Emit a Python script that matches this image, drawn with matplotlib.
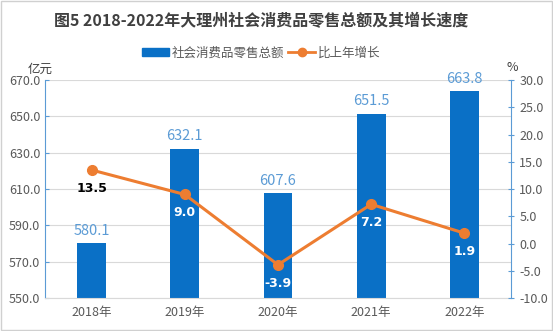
import matplotlib.pyplot as plt
import numpy as np
from matplotlib.lines import Line2D
from matplotlib.patches import Patch

plt.rcParams['font.family'] = ['Noto Sans CJK SC', 'DejaVu Sans']

years = ["2018年", "2019年", "2020年", "2021年", "2022年"]
sales = [580.1, 632.1, 607.6, 651.5, 663.8]
growth = [13.5, 9.0, -3.9, 7.2, 1.9]

fig = plt.figure(figsize=(5.53, 3.31), dpi=100)
fig.patches.append(plt.Rectangle((0.002, 0.003), 0.996, 0.994, transform=fig.transFigure,
                                 fill=False, edgecolor='#d0d0d0', lw=1))
ax = fig.add_axes([0.0814, 0.0997, 0.8426, 0.6583])
x = np.arange(len(years))

ax.bar(x, sales, width=0.31, color='#0A70C6', zorder=2)
for xi, v in zip(x, sales):
    ax.text(xi, v + 3, f"{v:.1f}", ha='center', va='bottom', color='#5B9BD5', fontsize=10.5)

ax.set_xlim(-0.5, 4.5)
ax.set_ylim(550, 670)
ax.set_yticks(np.arange(550, 671, 20))
ax.set_yticklabels([f"{t:.1f}" for t in np.arange(550, 671, 20)])
ax.set_xticks(x)
ax.set_xticklabels(years)
ax.grid(axis='y', color='#d9d9d9', lw=0.8, zorder=0)
ax.tick_params(axis='y', colors='#5B9BD5', labelcolor='#595959', labelsize=9, length=3, direction='in')
ax.tick_params(axis='x', length=0, labelcolor='#595959', labelsize=9, pad=6)
for s in ['top', 'right']:
    ax.spines[s].set_visible(False)
ax.spines['left'].set_color('#5B9BD5')
ax.spines['bottom'].set_color('#d9d9d9')

ax2 = ax.twinx()
ax2.plot(x, growth, color='#ED7D31', lw=2.2, marker='o', markersize=7, zorder=3)
ax2.set_ylim(-10, 30)
ax2.set_yticks(np.arange(-10, 31, 5))
ax2.set_yticklabels([f"{t:.1f}" for t in np.arange(-10, 31, 5)])
ax2.tick_params(axis='y', colors='#5B9BD5', labelcolor='#595959', labelsize=9, length=5, direction='inout')
for s in ['top', 'left', 'bottom']:
    ax2.spines[s].set_visible(False)
ax2.spines['right'].set_color('#5B9BD5')
for i, (xi, g) in enumerate(zip(x, growth)):
    c = 'black' if i == 0 else 'white'
    ax2.text(xi, g - 2.2, f"{g:.1f}", ha='center', va='top', color=c,
             fontsize=9, fontweight='bold', family=['DejaVu Sans'])

fig.text(0.473, 0.935, "图5 2018-2022年大理州社会消费品零售总额及其增长速度",
         ha='center', va='center', fontsize=11.5, fontweight='bold', color='#404040')
fig.text(0.072, 0.79, "亿元", ha='center', va='center', fontsize=9, color='#404040')
fig.text(0.926, 0.795, "%", ha='center', va='center', fontsize=9, color='#404040')

handles = [Patch(color='#0A70C6'),
           Line2D([0], [0], color='#ED7D31', lw=2, marker='o', markersize=6)]
fig.legend(handles, ["社会消费品零售总额", "比上年增长"], loc='center', bbox_to_anchor=(0.472, 0.84),
           ncol=2, frameon=False, fontsize=9, handlelength=2.2, columnspacing=0.3,
           handletextpad=0.2, labelcolor='#595959')

fig.savefig("out.png", dpi=100)
